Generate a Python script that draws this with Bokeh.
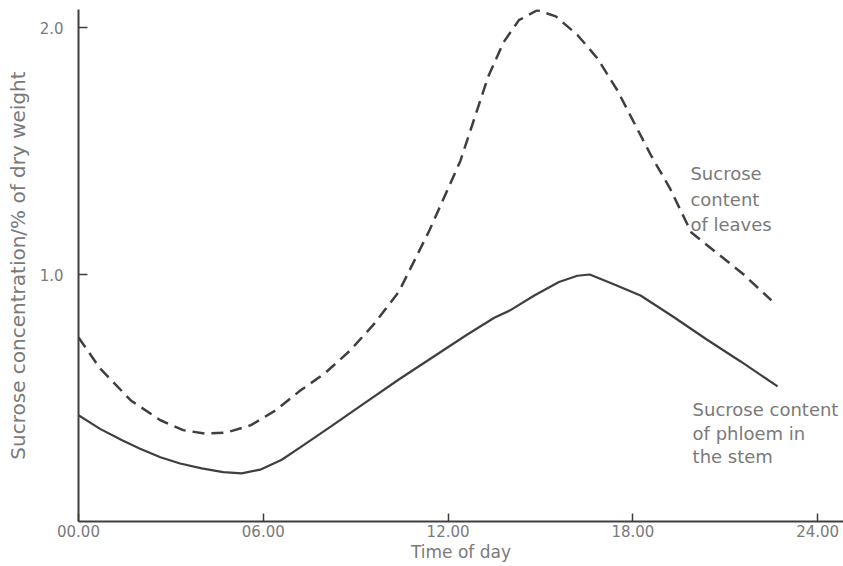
from bokeh.plotting import figure
from bokeh.models import FixedTicker, Range1d
from bokeh.core.properties import value
from bokeh.embed import file_html
from bokeh.resources import INLINE

# Time of day (hours) and sucrose concentration (% of dry weight)
leaf_time = [0.0, 0.7, 1.7, 2.66, 3.4, 4.1, 4.8, 5.6, 6.4, 7.2, 8.0, 8.8, 9.6, 10.4,
             11.4, 12.4, 13.3, 13.8, 14.3, 14.9, 15.5, 16.2, 16.85, 17.5, 18.1, 18.6,
             19.2, 19.9, 20.7, 21.6, 22.5]
leaf_sucrose = [0.745, 0.62, 0.49, 0.41, 0.37, 0.356, 0.36, 0.39, 0.45, 0.53, 0.60, 0.69,
                0.80, 0.93, 1.18, 1.46, 1.80, 1.94, 2.03, 2.07, 2.045, 1.97, 1.875, 1.745,
                1.60, 1.48, 1.35, 1.17, 1.09, 1.00, 0.895]

phloem_time = [0.0, 0.7, 1.4, 2.0, 2.66, 3.3, 4.0, 4.7, 5.3, 5.9, 6.6, 7.2, 8.2, 9.3,
               10.4, 11.5, 12.6, 13.5, 14.0, 14.8, 15.6, 16.2, 16.6, 17.3, 18.25, 19.3,
               20.4, 21.5, 22.7]
phloem_sucrose = [0.43, 0.375, 0.33, 0.295, 0.26, 0.235, 0.215, 0.20, 0.195, 0.21, 0.25,
                  0.30, 0.385, 0.48, 0.575, 0.665, 0.755, 0.825, 0.854, 0.915, 0.97, 0.995,
                  1.0, 0.965, 0.915, 0.83, 0.737, 0.648, 0.547]

x_ticks = [0, 6, 12, 18, 24]
x_tick_labels = ["00.00", "06.00", "12.00", "18.00", "24.00"]
y_ticks = [1.0, 2.0]
y_tick_labels = ["1.0", "2.0"]

leaf_label = "Sucrose\ncontent\nof leaves"
phloem_label = "Sucrose content\nof phloem in\nthe stem"

FONT = "DejaVu Sans"
TEXT_COLOR = "#7a7a7a"
LINE_COLOR = "#3f3f3f"

p = figure(width=843, height=566, output_backend="svg", toolbar_location=None,
           x_range=Range1d(0, 24.84), y_range=Range1d(0, 2.073),
           min_border_left=78, min_border_right=0, min_border_top=9,
           min_border_bottom=45)
p.outline_line_color = None
p.xgrid.grid_line_color = None
p.ygrid.grid_line_color = None
p.background_fill_color = "white"

p.line(leaf_time, leaf_sucrose, line_color=LINE_COLOR, line_width=2.5,
       line_dash="12 7")
p.line(phloem_time, phloem_sucrose, line_color=LINE_COLOR, line_width=2.2)

p.text(x=[19.87], y=[1.45], text=[leaf_label], text_font=value(FONT),
       text_font_size="18px", text_color=TEXT_COLOR, text_align="left",
       text_baseline="top", text_line_height=1.2)
p.text(x=[19.94], y=[0.494], text=[phloem_label], text_font=value(FONT),
       text_font_size="18px", text_color=TEXT_COLOR, text_align="left",
       text_baseline="top", text_line_height=1.1)

for ax in (p.xaxis[0], p.yaxis[0]):
    ax.axis_line_color = LINE_COLOR
    ax.axis_line_width = 2
    ax.major_tick_line_color = LINE_COLOR
    ax.major_tick_line_width = 1.5
    ax.major_tick_out = 0
    ax.minor_tick_line_color = None
    ax.major_label_text_font = FONT
    ax.major_label_text_color = TEXT_COLOR
    ax.axis_label_text_font = FONT
    ax.axis_label_text_color = TEXT_COLOR
    ax.axis_label_text_font_style = "normal"

p.xaxis.ticker = FixedTicker(ticks=x_ticks)
p.xaxis.major_label_overrides = dict(zip(x_ticks, x_tick_labels))
p.xaxis.major_tick_in = 8
p.xaxis.major_label_text_font_size = "15px"
p.xaxis.major_label_standoff = 3
p.xaxis.axis_label = "Time of day"
p.xaxis.axis_label_text_font_size = "17px"
p.xaxis.axis_label_standoff = 2

p.yaxis.ticker = FixedTicker(ticks=y_ticks)
p.yaxis.major_label_overrides = dict(zip(y_ticks, y_tick_labels))
p.yaxis.major_tick_in = 9
p.yaxis.major_label_text_font_size = "15px"
p.yaxis.major_label_standoff = 15
p.yaxis.axis_label = "Sucrose concentration/% of dry weight"
p.yaxis.axis_label_text_font_size = "20px"
p.yaxis.axis_label_standoff = 7

open("out.html", "w").write(file_html(p, INLINE))
